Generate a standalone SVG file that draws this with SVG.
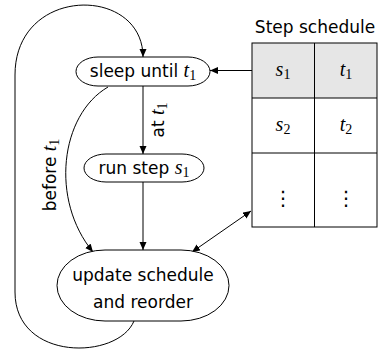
<svg xmlns="http://www.w3.org/2000/svg" width="378" height="354" viewBox="0 0 378 354">
<defs>
<marker id="ah" markerUnits="userSpaceOnUse" markerWidth="10" markerHeight="8" refX="8" refY="3.5" orient="auto-start-reverse" viewBox="0 0 10 8">
<path d="M0,0 L8,3.5 L0,7 Z" fill="#000"/>
</marker>
</defs>
<style>
.node{fill:#fff;stroke:#000;stroke-width:1}
.lbl{font-family:"DejaVu Sans",sans-serif;font-size:17px;fill:#000}
.m{font-family:"Liberation Serif",serif;font-style:italic;font-size:20px}
.sub{font-family:"Liberation Serif",serif;font-style:normal;font-size:14px}
.dots{font-family:"Noto Sans CJK JP","DejaVu Sans",sans-serif;font-size:20px;fill:#000}
.edge{fill:none;stroke:#000;stroke-width:1}
.cell{stroke:#000;stroke-width:1}
</style>
<g id="connectors">
<path class="edge" d="M134,321 C118,360 15,362 15,292 L15,75 C15,-15 143,-15 143,57" marker-end="url(#ah)"/>
<path class="edge" d="M108,87 C60,115 50,200 93,252" marker-end="url(#ah)"/>
<path class="edge" d="M143,86 L143,154" marker-end="url(#ah)"/>
<path class="edge" d="M143,182 L143,250" marker-end="url(#ah)"/>
<path class="edge" d="M252,70.5 L210,70.5" marker-end="url(#ah)"/>
<path class="edge" d="M192,252 L251,211" marker-start="url(#ah)" marker-end="url(#ah)"/>
<text class="lbl" transform="translate(56,175) rotate(-90)" text-anchor="middle">before <tspan class="m">t</tspan><tspan class="sub" dy="3">1</tspan></text>
<text class="lbl" transform="translate(164,120) rotate(-90)" text-anchor="middle">at <tspan class="m">t</tspan><tspan class="sub" dy="3">1</tspan></text>
</g>
<g id="sleep">
<rect class="node" x="76" y="57" width="134" height="29" rx="22" ry="14.5"/>
<text class="lbl" x="143" y="77" text-anchor="middle">sleep until <tspan class="m">t</tspan><tspan class="sub" dy="3">1</tspan></text>
</g>
<g id="run">
<rect class="node" x="84" y="154" width="120" height="28" rx="22" ry="14"/>
<text class="lbl" x="144" y="174" text-anchor="middle">run step <tspan class="m">s</tspan><tspan class="sub" dy="3">1</tspan></text>
</g>
<g id="update">
<rect class="node" x="57" y="250" width="172" height="71" rx="48" ry="35.5"/>
<text class="lbl" x="143" y="281" text-anchor="middle">update schedule</text>
<text class="lbl" x="143" y="308" text-anchor="middle">and reorder</text>
</g>
<g id="schedule">
<text class="lbl" x="315" y="33" text-anchor="middle">Step schedule</text>
<rect x="252" y="43" width="125" height="55" fill="#e6e6e6"/>
<rect x="252" y="43" width="125" height="184" fill="none" class="cell"/>
<line class="cell" x1="314.5" y1="43" x2="314.5" y2="227"/>
<line class="cell" x1="252" y1="98" x2="377" y2="98"/>
<line class="cell" x1="252" y1="153" x2="377" y2="153"/>
<text class="lbl" x="283" y="76" text-anchor="middle"><tspan class="m">s</tspan><tspan class="sub" dy="3">1</tspan></text>
<text class="lbl" x="346" y="76" text-anchor="middle"><tspan class="m">t</tspan><tspan class="sub" dy="3">1</tspan></text>
<text class="lbl" x="283" y="131" text-anchor="middle"><tspan class="m">s</tspan><tspan class="sub" dy="3">2</tspan></text>
<text class="lbl" x="346" y="131" text-anchor="middle"><tspan class="m">t</tspan><tspan class="sub" dy="3">2</tspan></text>
<text class="dots" x="283" y="205" text-anchor="middle">⋮</text>
<text class="dots" x="346" y="205" text-anchor="middle">⋮</text>
</g>
</svg>
